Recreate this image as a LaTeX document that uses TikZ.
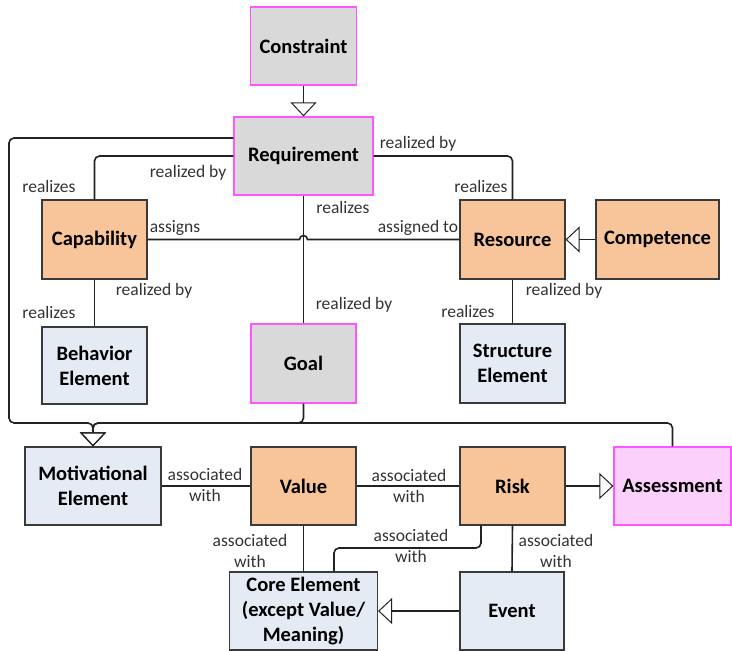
\documentclass[tikz,border=0pt]{standalone}
\usepackage{fontspec}
\setmainfont{Carlito}
\usetikzlibrary{arrows.meta,calc}
\definecolor{gfill}{HTML}{D9D9D9}
\definecolor{mag}{HTML}{FF55FF}
\definecolor{ofill}{HTML}{F8C59B}
\definecolor{bfill}{HTML}{E4EBF5}
\definecolor{pfill}{HTML}{FBD0FB}
\definecolor{edge}{HTML}{3A3A3A}
\definecolor{ink}{HTML}{222222}
\definecolor{lbltext}{HTML}{333333}

\tikzset{
  box/.style={draw=edge, line width=1.2pt, align=center, inner sep=0pt,
    font=\fontsize{20.5}{25}\selectfont\bfseries, text=black},
  greybox/.style={box, draw=mag, fill=gfill},
  orangebox/.style={box, fill=ofill},
  bluebox/.style={box, fill=bfill},
  pinkbox/.style={box, draw=mag, fill=pfill},
  link/.style={draw=ink, line width=1.6pt, rounded corners=5pt},
  gen/.style={link, -{Triangle[open, length=14pt, width=26pt, line width=1pt]}},
  lbl/.style={font=\fontsize{17.5}{21}\selectfont, text=lbltext, inner sep=0pt, align=center},
}

\begin{document}
\begin{tikzpicture}[x=1pt, y=-1pt]
\useasboundingbox (0,0) rectangle (732,651);

% concepts
\node[greybox, minimum width=106pt, minimum height=78pt] (con) at (303.5,46) {Constraint};
\node[greybox, minimum width=139pt, minimum height=78pt] (req) at (303.5,156) {Requirement};
\node[orangebox, minimum width=105pt, minimum height=79pt] (cap) at (94.5,239.5) {Capability};
\node[orangebox, minimum width=105pt, minimum height=79pt] (res) at (512.5,239.5) {Resource};
\node[orangebox, minimum width=123pt, minimum height=79pt] (comp) at (657.5,239.5) {Competence};
\node[bluebox, minimum width=105pt, minimum height=77pt] (beh) at (94.5,365.5) {Behavior\\Element};
\node[greybox, minimum width=105pt, minimum height=79pt] (goal) at (303.5,363.5) {Goal};
\node[bluebox, minimum width=105pt, minimum height=79pt] (str) at (512.5,363.5) {Structure\\Element};
\node[bluebox, minimum width=136pt, minimum height=78pt] (mot) at (93,486) {Motivational\\Element};
\node[orangebox, minimum width=105pt, minimum height=78pt] (val) at (303.5,486) {Value};
\node[orangebox, minimum width=105pt, minimum height=78pt] (risk) at (512.5,486) {Risk};
\node[pinkbox, minimum width=117pt, minimum height=78pt] (ass) at (672.5,486) {Assessment};
\node[bluebox, minimum width=148pt, minimum height=78pt] (core) at (303.5,611) {Core Element\\(except Value/\\Meaning)};
\node[bluebox, minimum width=104pt, minimum height=78pt] (ev) at (512,611) {Event};

% junction points of the routed connectors
\coordinate (bus) at (93,423);
\coordinate (rk) at (334,548);

% specialisations
\draw[gen] (con.south) -- (req.north);
\draw[gen] ([yshift=18pt]req.west) -| (9,423) -| (mot.north);
\draw[gen] (goal.south) |- (bus) -- (mot.north);
\draw[gen] (ass.north) |- (bus) -- (mot.north);
\draw[gen] (comp.west) -- (res.east);
\draw[gen] (risk.east) -- (ass.west);
\draw[gen] (ev.west) -- (core.east);

% associations
\draw[link] (req.west) -| (cap.north);
\draw[link] (req.east) -| (res.north);
\draw[link] (req.south) -- (goal.north);
\draw[draw=ink, line width=1.6pt] (cap.east) -- (299.5,239.5) arc[start angle=180, end angle=0, radius=4pt] -- (res.west);
\draw[link] (cap.south) -- (beh.north);
\draw[link] (res.south) -- (str.north);
\draw[link] (mot.east) -- (val.west);
\draw[link] (val.east) -- (risk.west);
\draw[link] (val.south) -- (core.north);
\draw[link] ([xshift=-31.5pt]risk.south) |- (rk) -- ([xshift=30.5pt]core.north);
\draw[link] (risk.south) -- (ev.north);

% role labels
\node[lbl] (l1) at (188,173) {realized by};
\node[lbl] (l2) at (49,186) {realizes};
\node[lbl] (l3) at (418,144) {realized by};
\node[lbl] (l4) at (481,186) {realizes};
\node[lbl] (l5) at (343,207) {realizes};
\node[lbl] (l6) at (175,228) {assigns};
\node[lbl] (l7) at (418,228) {assigned to};
\node[lbl] (l8) at (154,291) {realized by};
\node[lbl] (l9) at (564,291) {realized by};
\node[lbl] (l10) at (49,312) {realizes};
\node[lbl] (l11) at (354,305) {realized by};
\node[lbl] (l12) at (468,311) {realizes};
\node[lbl] (l13) at (205,485) {associated\\with};
\node[lbl] (l14) at (409,486) {associated\\with};
\node[lbl] (l15) at (250,551) {associated\\with};
\node[lbl] (l16) at (411,546) {associated\\with};
\node[lbl] (l17) at (556,551) {associated\\with};
\end{tikzpicture}
\end{document}
